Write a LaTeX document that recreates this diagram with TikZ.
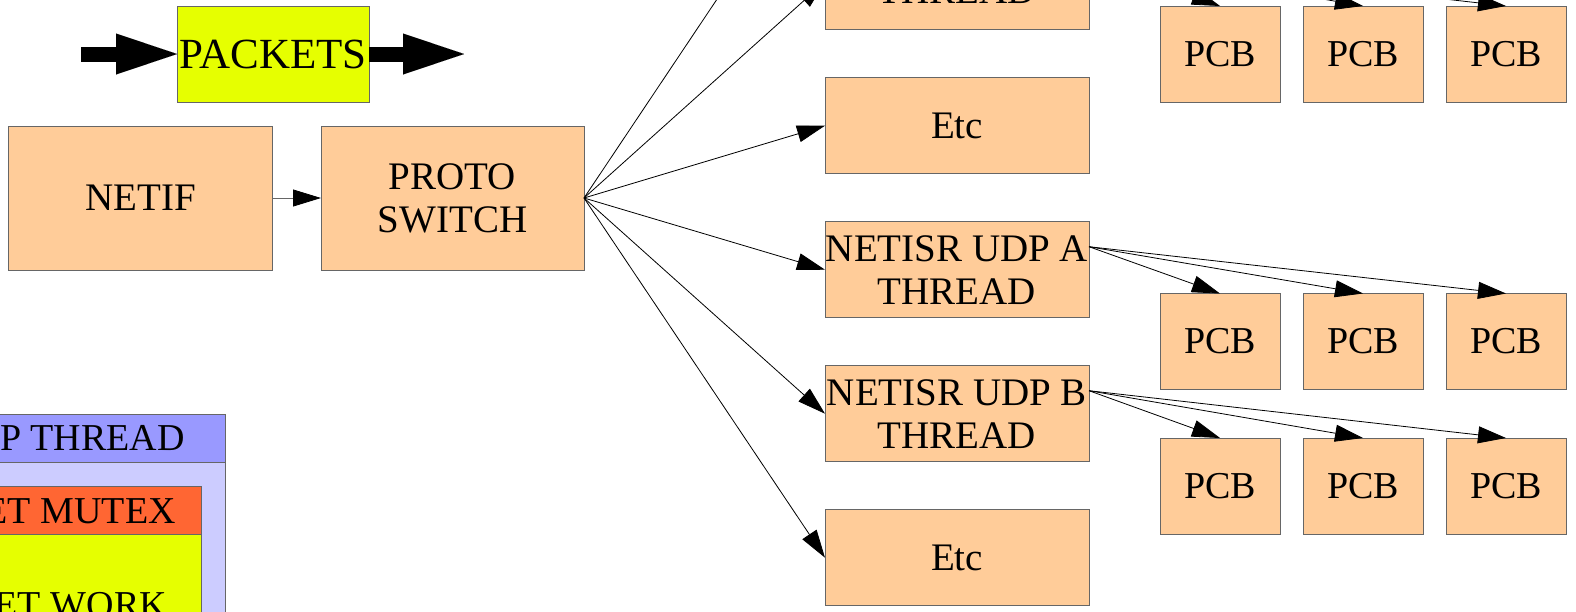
\documentclass[tikz,border=0pt]{standalone}
\usepackage{fontspec}
\setmainfont{Liberation Serif}
\usetikzlibrary{arrows.meta}
\definecolor{peach}{HTML}{FFCC99}
\definecolor{lime}{HTML}{E6FF00}
\definecolor{mutexred}{HTML}{FF6633}
\definecolor{threadhead}{HTML}{9999FF}
\definecolor{threadbody}{HTML}{CCCCFF}
\definecolor{edgegray}{HTML}{666666}

\begin{document}
\begin{tikzpicture}[x=1pt,y=-1pt,
  box/.style={draw=edgegray, line width=1pt, fill=peach, inner sep=0pt, outer sep=0pt,
              align=center, font=\fontsize{39}{43}\selectfont},
  stage/.style={box, minimum width=264pt, minimum height=96pt},
  pcb/.style={box, minimum width=120pt, minimum height=96pt, font=\fontsize{38}{43}\selectfont},
  link/.style={line width=0.8pt, -{Triangle[length=28pt,width=17pt,color=black]}},
  bigarrow/.style={line width=15pt, -{Triangle[length=61pt,width=41pt,line width=0.01pt]}},
  legendbox/.style={draw=edgegray, line width=1pt},
  legendtext/.style={anchor=base east, inner sep=0pt, font=\fontsize{38}{43}\selectfont},
]
\useasboundingbox (0,0) rectangle (1576,611);
\clip (0,0) rectangle (1576,611);

% packet flow marker
\node[box, fill=lime, minimum width=192pt, minimum height=96pt,
      font=\fontsize{43}{48}\selectfont] (packets) at (273,54) {PACKETS};
\coordinate (pktin) at (81,54);
\coordinate (pktout) at (464,54);
\draw[bigarrow] (pktin) -- (packets.west);
\draw[bigarrow] (packets.east) -- (pktout);

% input path
\node[box, minimum width=264pt, minimum height=144pt] (netif) at (140.5,198) {NETIF};
\node[box, minimum width=263pt, minimum height=144pt] (proto) at (452.5,198) {PROTO\\SWITCH};
\draw[link, draw=edgegray] (netif.east) -- (proto.west);

% netisr threads
\node[stage] (s0) at (957,-162.3) {};
\node[stage] (s1) at (957,-18.3) {\mbox{}\\THREAD};
\node[stage] (etcA) at (957,125.7) {Etc};
\node[stage] (udpa) at (957,269.7) {NETISR UDP A\\THREAD};
\node[stage] (udpb) at (957,413.7) {NETISR UDP B\\THREAD};
\node[stage] (etcB) at (957,557.7) {Etc};

\foreach \t in {s0,s1,etcA,udpa,udpb,etcB}
  \draw[link] (proto.east) -- (\t.west);

% protocol control blocks per thread
\foreach \r/\y in {s1/54, udpa/341.5, udpb/486} {
  \coordinate (\r-out) at ([yshift=-25pt]\r.north east);
  \foreach \i/\x in {1/1220, 2/1363, 3/1506} {
    \node[pcb] (\r-pcb\i) at (\x,\y) {PCB};
    \draw[link] (\r-out) -- (\r-pcb\i.north);
  }
}

% legend
\fill[threadbody] (-300,414) rectangle (225,700);
\draw[legendbox, fill=threadhead] (-300,414) rectangle (225,462);
\draw[legendbox] (225,414) -- (225,700);
\draw[legendbox, fill=lime] (-300,486) rectangle (201,700);
\draw[legendbox, fill=mutexred] (-300,486) rectangle (201,534);
\node[legendtext] (lgthread) at (185,450) {P THREAD};
\node[legendtext] (lgmutex) at (176,523) {ET MUTEX};
\node[legendtext] (lgwork) at (167,617) {ET WORK};
\end{tikzpicture}
\end{document}
